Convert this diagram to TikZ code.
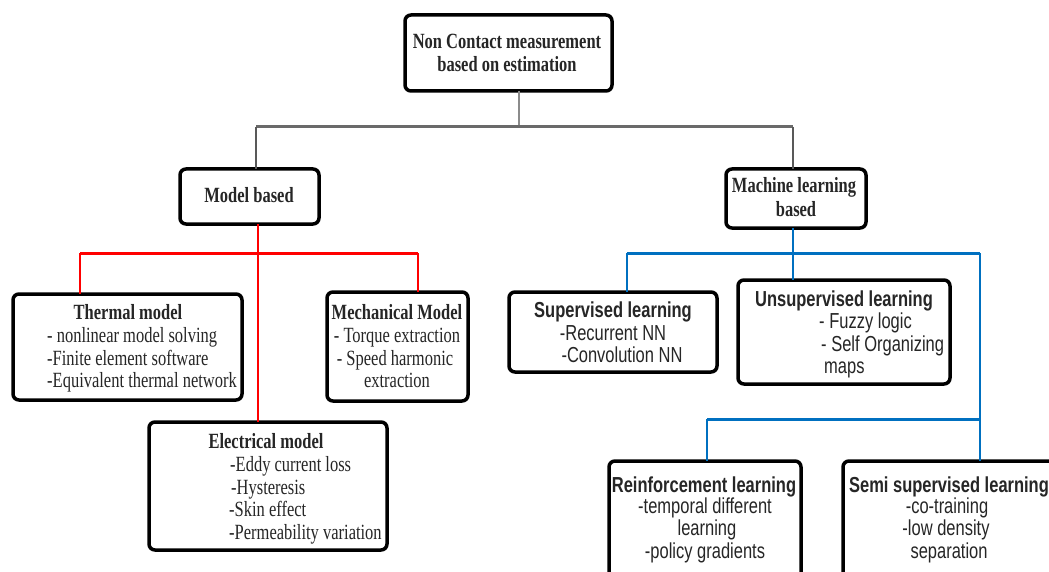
\documentclass[tikz,border=0pt]{standalone}
\usepackage{fontspec}
\setmainfont{Liberation Serif}[FakeStretch=0.76]
\newfontfamily\arialf{Liberation Sans}[FakeStretch=0.76]
\definecolor{redl}{HTML}{FF0000}
\definecolor{bluel}{HTML}{0070C0}
\definecolor{grayl}{HTML}{595959}
\definecolor{txtc}{HTML}{262626}
\tikzset{
  box/.style={draw=black, line width=3.5pt, rounded corners=6pt, fill=white,
    inner sep=0pt, outer sep=0pt, anchor=north west},
  ser/.style={inner sep=0pt, anchor=base, text=txtc, font=\fontsize{21.7}{23}\selectfont},
  serb/.style={ser, font=\fontsize{21.7}{23}\selectfont\bfseries},
  sans/.style={inner sep=0pt, anchor=base, text=txtc, font=\arialf\fontsize{21.7}{23}\selectfont},
  sansb/.style={sans, font=\arialf\fontsize{21.7}{23}\selectfont\bfseries},
  gline/.style={draw=grayl, line width=1.6pt},
  gthin/.style={draw=grayl!70, line width=1.2pt},
  gbus/.style={draw=grayl!90, line width=3pt},
  rline/.style={draw=redl, line width=1.8pt},
  rbus/.style={draw=redl, line width=3pt},
  bline/.style={draw=bluel, line width=1.8pt},
  bbus/.style={draw=bluel, line width=3pt},
}
\begin{document}
\begin{tikzpicture}[x=1pt,y=-1pt]
\useasboundingbox[fill=white] (0,0) rectangle (1049,572);
\clip (0,0) rectangle (1049,572);

% ---------- bus coordinates ----------
\coordinate (gT) at (519,127);
\coordinate (gL) at (256,127);
\coordinate (gR) at (793,127);
\coordinate (rL) at (80,253);
\coordinate (rR) at (418,253);
\coordinate (bL) at (627,253);
\coordinate (bR) at (980,253);
\coordinate (b2L) at (707,419);
\coordinate (b2R) at (980,419);

% ---------- boxes ----------
\node[box, minimum width=207pt, minimum height=76pt] (top) at (405,15) {};
\node[box, minimum width=139pt, minimum height=55pt] (model) at (180,169) {};
\node[box, minimum width=140pt, minimum height=59pt] (ml) at (726,169) {};
\node[box, minimum width=229pt, minimum height=106pt] (thermal) at (13,294) {};
\node[box, minimum width=141pt, minimum height=109pt] (mech) at (327,292) {};
\node[box, minimum width=238pt, minimum height=128pt] (elec) at (149,422) {};
\node[box, minimum width=208pt, minimum height=80pt] (sup) at (509,292) {};
\node[box, minimum width=212pt, minimum height=104pt] (unsup) at (738,280) {};
\node[box, minimum width=192pt, minimum height=130pt] (reinf) at (609,461) {};
\node[box, minimum width=215pt, minimum height=130pt] (semi) at (843,461) {};

% ---------- connectors ----------
\draw[gthin] (top.south -| gT) -- (gT);
\draw[gbus] (gL) -- (gR);
\draw[gline] (gL) -- (model.north -| gL);
\draw[gline] (gR) -- (ml.north -| gR);

\draw[rbus] (rL) -- (rR);
\draw[rline] (model.south -| 258,0) -- (elec.north -| 258,0);
\draw[rline] (rL) -- (thermal.north -| rL);
\draw[rline] (rR) -- (mech.north -| rR);

\draw[bbus] (bL) -- (bR);
\draw[bline] (ml.south -| 793,0) -- (unsup.north -| 793,0);
\draw[bline] (bL) -- (sup.north -| bL);
\draw[bline] (bR) -- (semi.north -| bR);
\draw[bbus] (b2L) -- (b2R);
\draw[bline] (b2L) -- (reinf.north -| b2L);

% ---------- texts ----------
\node[serb] (top1) at (507,49) {Non Contact measurement};
\node[serb] (top2) at (507,72) {based on estimation};
\node[serb] (model1) at (249,203) {Model based};
\node[serb] (ml1) at (794,193) {Machine learning};
\node[serb] (ml2) at (796,217) {based};

\node[serb] (th0) at (128,319) {Thermal model};
\node[ser, anchor=base west] (th1) at (47,342) {- nonlinear model solving};
\node[ser, anchor=base west] (th2) at (47,365) {-Finite element software};
\node[ser, anchor=base west] (th3) at (47,387) {-Equivalent thermal network};

\node[serb] (me0) at (397,319) {Mechanical Model};
\node[ser] (me1) at (397,342) {- Torque extraction};
\node[ser] (me2) at (395,365) {- Speed harmonic};
\node[ser] (me3) at (397,387) {extraction};

\node[serb] (el0) at (266,448) {Electrical model};
\node[ser, anchor=base west] (el1) at (230,471) {-Eddy current loss};
\node[ser, anchor=base west] (el2) at (231,494) {-Hysteresis};
\node[ser, anchor=base west] (el3) at (229,516) {-Skin effect};
\node[ser, anchor=base west] (el4) at (229,539) {-Permeability variation};

\node[sansb] (su0) at (613,317) {Supervised learning};
\node[sans] (su1) at (613,340) {-Recurrent NN};
\node[sans] (su2) at (622,362) {-Convolution NN};

\node[sansb] (un0) at (844,306) {Unsupervised learning};
\node[sans, anchor=base west] (un1) at (819,328) {- Fuzzy logic};
\node[sans, anchor=base west] (un2) at (821,351) {- Self Organizing};
\node[sans, anchor=base west] (un3) at (824,373) {maps};

\node[sansb] (re0) at (704,492) {Reinforcement learning};
\node[sans] (re1) at (705,513) {-temporal different};
\node[sans] (re2) at (707,535) {learning};
\node[sans] (re3) at (705,558) {-policy gradients};

\node[sansb] (se0) at (949,492) {Semi supervised learning};
\node[sans] (se1) at (947,513) {-co-training};
\node[sans] (se2) at (946,535) {-low density};
\node[sans] (se3) at (949,558) {separation};
\end{tikzpicture}
\end{document}
